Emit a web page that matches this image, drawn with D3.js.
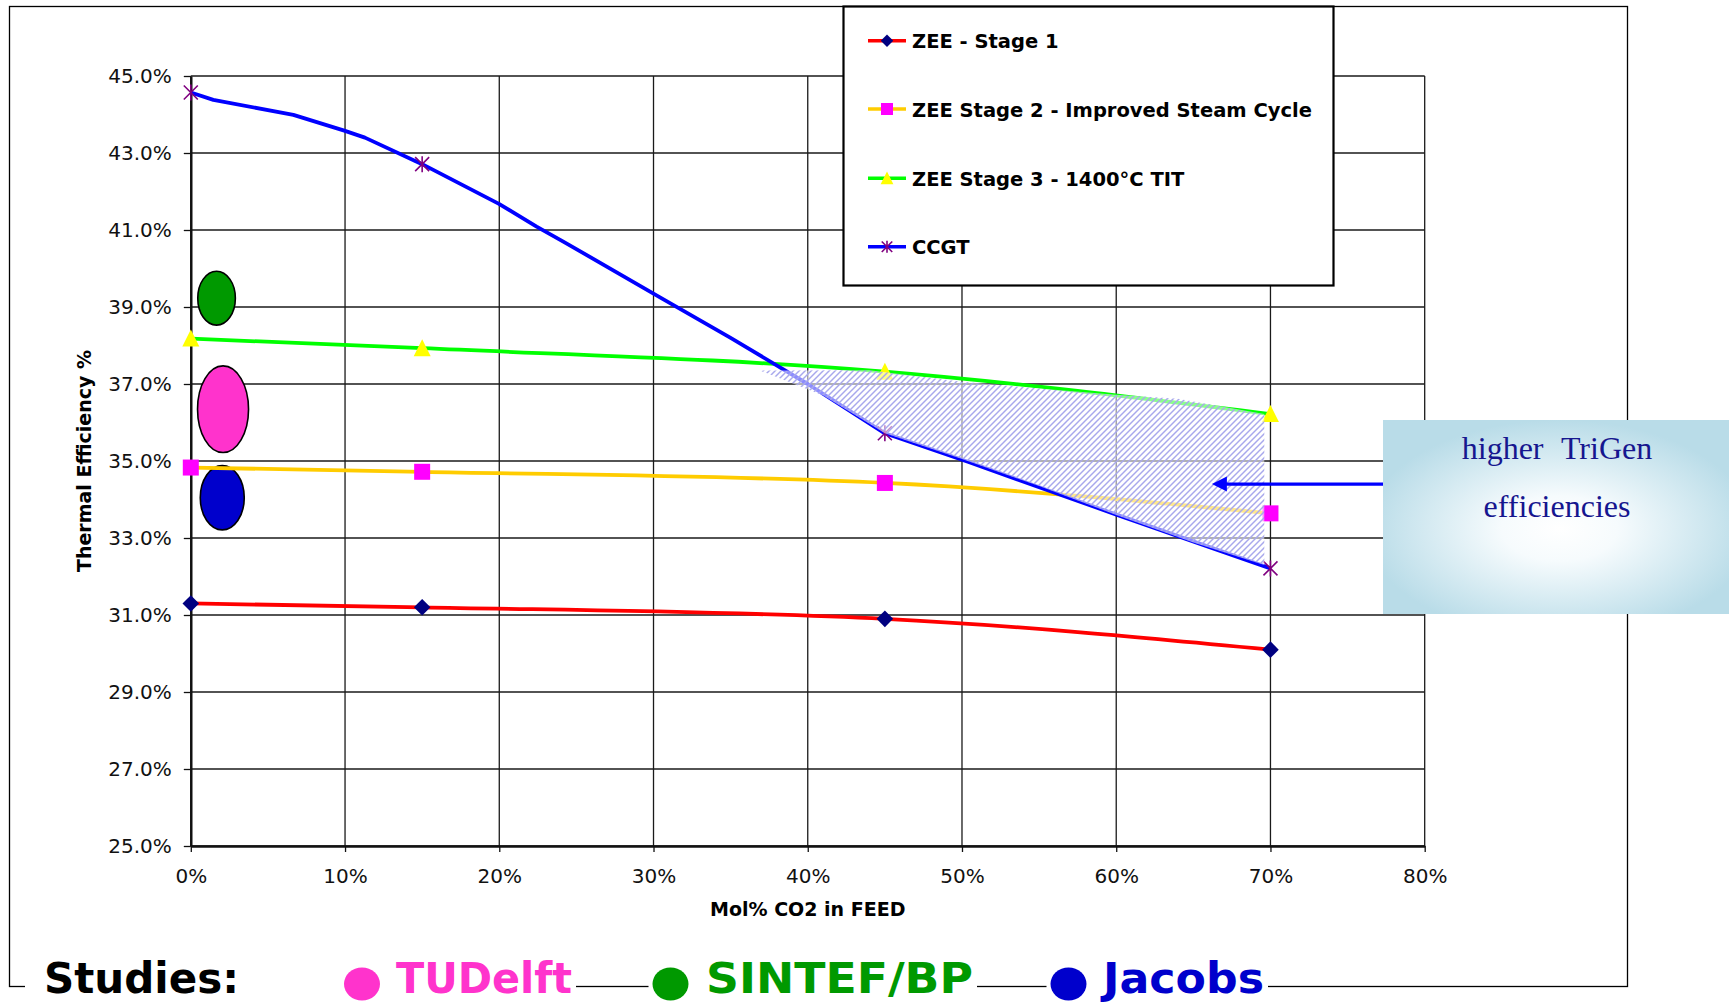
<!DOCTYPE html>
<html>
<head>
<meta charset="utf-8">
<script src="https://cdn.jsdelivr.net/npm/d3@7"></script>
<style>
  html, body { margin: 0; padding: 0; background: #ffffff; }
  svg { display: block; }
</style>
</head>
<body>
<svg id="chart" width="1729" height="1006"></svg>
<script>
// ---- data ---------------------------------------------------------------
const co2Feed = [0, 15, 45, 70];                 // Mol% CO2 in feed
const zeeStage1 = [31.30, 31.20, 30.90, 30.10];  // thermal efficiency %
const zeeStage2 = [34.83, 34.72, 34.43, 33.64];
const zeeStage3 = [38.18, 37.93, 37.32, 36.22];
const ccgt      = [44.57, 42.71, 35.72, 32.21];

// finer CCGT trace between the marked cases
const ccgtTraceX = [0, 1.46, 6.65, 9.95, 11.29, 15, 19.98, 22.42, 24.15, 30.42, 35, 40, 45, 50.38, 60.06, 70];
const ccgtTraceY = [44.57, 44.38, 43.99, 43.58, 43.40, 42.71, 41.68, 41.09, 40.70, 39.25, 38.2, 37.0, 35.72, 34.98, 33.60, 32.21];

const seriesNames = ["ZEE - Stage 1", "ZEE Stage 2 - Improved Steam Cycle",
                     "ZEE Stage 3 - 1400°C TIT", "CCGT"];

const xTicks = [0, 10, 20, 30, 40, 50, 60, 70, 80];
const yTicks = [25, 27, 29, 31, 33, 35, 37, 39, 41, 43, 45];

// published study results, shown as efficiency bands near 2% CO2
const studyNames = ["TUDelft", "SINTEF/BP", "Jacobs"];
const studyCO2   = [2.09, 1.67, 2.04];
const studyLow   = [35.22, 38.53, 33.21];
const studyHigh  = [37.47, 39.93, 34.88];

// region where TriGen beats CCGT (outline in data units)
const gainX = [36.9, 44.0, 50.0, 56.0, 60.0, 64.0, 69.6, 69.6, 65.0, 60.0, 55.0, 50.0, 45.0, 41.0];
const gainY = [37.35, 37.36, 37.06, 36.85, 36.72, 36.62, 36.22, 32.30, 32.88, 33.60, 34.35, 35.05, 35.72, 36.70];
const arrowTip = [66.2, 34.4];

// ---- layout -------------------------------------------------------------
const svg = d3.select("#chart");
const x = d3.scaleLinear().domain([0, 80]).range([190.8, 1424.7]);
const y = d3.scaleLinear().domain([25, 45]).range([846, 76]);
const FONT = "'DejaVu Sans', Verdana, sans-serif";

const styles = [
  { line: "#ff0000", marker: "diamond",  mfill: "#000080" },
  { line: "#ffcc00", marker: "square",   mfill: "#ff00ff" },
  { line: "#00ff00", marker: "triangle", mfill: "#ffff00" },
  { line: "#0000ff", marker: "star",     mfill: "#800080" }
];
const seriesValues = [zeeStage1, zeeStage2, zeeStage3, ccgt];

const defs = svg.append("defs");
const pat = defs.append("pattern").attr("id", "hatch")
  .attr("patternUnits", "userSpaceOnUse").attr("width", 6).attr("height", 6);
pat.append("rect").attr("width", 6).attr("height", 6).attr("fill", "rgba(255,255,255,0.55)");
pat.append("path").attr("d", "M-1.5,1.5 l3,-3 M0,6 l6,-6 M4.5,7.5 l3,-3")
  .attr("stroke", "#a8a8ec").attr("stroke-width", 1.45);

const grad = defs.append("radialGradient").attr("id", "calloutFill")
  .attr("cx", 0.51).attr("cy", 0.56).attr("r", 0.56);
grad.append("stop").attr("offset", "0%").attr("stop-color", "#ffffff");
grad.append("stop").attr("offset", "30%").attr("stop-color", "#f6fbfd");
grad.append("stop").attr("offset", "100%").attr("stop-color", "#b9dce8");

// outer frame
svg.append("rect").attr("x", 9.5).attr("y", 6.5).attr("width", 1618).attr("height", 980)
  .attr("fill", "none").attr("stroke", "#000").attr("stroke-width", 1.3);

// ---- grid ---------------------------------------------------------------
const grid = svg.append("g");
grid.selectAll("line.h").data(yTicks).join("line")
  .attr("x1", x(0)).attr("x2", x(80)).attr("y1", d => y(d)).attr("y2", d => y(d))
  .attr("stroke", "#1a1a1a").attr("stroke-width", 1.3);
grid.selectAll("line.v").data(xTicks).join("line")
  .attr("x1", d => x(d)).attr("x2", d => x(d)).attr("y1", y(25)).attr("y2", y(45))
  .attr("stroke", "#1a1a1a").attr("stroke-width", 1.3);

// ---- axes ---------------------------------------------------------------
const yAxis = svg.append("g").attr("transform", `translate(${x(0)},0)`)
  .call(d3.axisLeft(y).tickValues(yTicks).tickSize(7).tickSizeOuter(0).tickPadding(12)
    .tickFormat(d => d.toFixed(1) + "%"));
const xAxis = svg.append("g").attr("transform", `translate(0,${y(25)})`)
  .call(d3.axisBottom(x).tickValues(xTicks).tickSize(6).tickSizeOuter(0).tickPadding(17)
    .tickFormat(d => d + "%"));
[yAxis, xAxis].forEach(a => {
  a.select(".domain").attr("stroke", "#111").attr("stroke-width", 2.4);
  a.selectAll(".tick line").attr("stroke", "#111").attr("stroke-width", 1.3);
  a.selectAll(".tick text").attr("font-family", FONT).attr("font-size", 20).attr("fill", "#111");
});

svg.append("text").attr("x", (x(0) + x(80)) / 2).attr("y", 915.5)
  .attr("text-anchor", "middle").attr("font-family", FONT).attr("font-weight", "bold")
  .attr("font-size", 19).text("Mol% CO2 in FEED");
svg.append("text").attr("transform", `translate(91,${(y(25) + y(45)) / 2}) rotate(-90)`)
  .attr("text-anchor", "middle").attr("font-family", FONT).attr("font-weight", "bold")
  .attr("font-size", 19).text("Thermal Efficiency %");

// ---- study bands --------------------------------------------------------
const studyColors = ["#ff33cc", "#009900", "#0000cc"];
const studyRx = [25.5, 18.8, 22];
svg.append("g").selectAll("ellipse").data(studyNames).join("ellipse")
  .attr("cx", (d, i) => x(studyCO2[i]))
  .attr("cy", (d, i) => (y(studyLow[i]) + y(studyHigh[i])) / 2)
  .attr("rx", (d, i) => studyRx[i])
  .attr("ry", (d, i) => (y(studyLow[i]) - y(studyHigh[i])) / 2)
  .attr("fill", (d, i) => studyColors[i]).attr("stroke", "#000").attr("stroke-width", 1.6);

// ---- series -------------------------------------------------------------
const smooth = d3.line().x(d => x(d[0])).y(d => y(d[1])).curve(d3.curveMonotoneX);
const straight = d3.line().x(d => x(d[0])).y(d => y(d[1]));

function marker(g, type, fill, k) {
  if (type === "diamond") {
    g.append("path").attr("d", `M0,${-8.3 * k} L${8.3 * k},0 L0,${8.3 * k} L${-8.3 * k},0 Z`).attr("fill", fill);
  } else if (type === "square") {
    g.append("rect").attr("x", -8 * k).attr("y", -8 * k).attr("width", 16 * k).attr("height", 16 * k).attr("fill", fill);
  } else if (type === "triangle") {
    g.append("path").attr("d", `M0,${-9 * k} L${8.5 * k},${8 * k} L${-8.5 * k},${8 * k} Z`).attr("fill", fill);
  } else {
    const s = 7 * k, t = 8 * k;
    g.append("path").attr("d", `M${-s},${-s} L${s},${s} M${-s},${s} L${s},${-s} M0,${-t} L0,${t}`)
      .attr("stroke", fill).attr("stroke-width", 1.6).attr("fill", "none");
  }
}

seriesValues.forEach((vals, i) => {
  const d = i === 3
    ? straight(ccgtTraceX.map((c, j) => [c, ccgtTraceY[j]]))
    : smooth(co2Feed.map((c, j) => [c, vals[j]]));
  svg.append("path").attr("d", d).attr("fill", "none")
    .attr("stroke", styles[i].line).attr("stroke-width", 3.8).attr("stroke-linejoin", "round");
});
seriesValues.forEach((vals, i) => {
  co2Feed.forEach((c, j) => {
    const g = svg.append("g").attr("transform", `translate(${x(c)},${y(vals[j])})`);
    marker(g, styles[i].marker, styles[i].mfill, 1);
  });
});

// ---- TriGen advantage region ------------------------------------------
const gainPts = gainX.map((v, i) => [v, gainY[i]]);
svg.append("path").attr("d", straight(gainPts) + "Z").attr("fill", "url(#hatch)");

// ---- legend -------------------------------------------------------------
svg.append("rect").attr("x", 843.5).attr("y", 6.5).attr("width", 490).attr("height", 279)
  .attr("fill", "#fff").attr("stroke", "#000").attr("stroke-width", 2.2);
const legendY = [40.7, 109, 178.3, 246.7];
seriesNames.forEach((name, i) => {
  const g = svg.append("g").attr("transform", `translate(0,${legendY[i]})`);
  g.append("line").attr("x1", 868).attr("x2", 906).attr("stroke", styles[i].line).attr("stroke-width", 3.5);
  const m = g.append("g").attr("transform", "translate(887,0)");
  marker(m, styles[i].marker, styles[i].mfill, 0.75);
  g.append("text").attr("x", 912).attr("y", 7.5).attr("font-family", FONT)
    .attr("font-weight", "bold").attr("font-size", 19.5).attr("fill", "#000").text(name);
});

// ---- callout ------------------------------------------------------------
svg.append("line").attr("x1", 1384).attr("x2", x(arrowTip[0]) + 13)
  .attr("y1", y(arrowTip[1])).attr("y2", y(arrowTip[1]))
  .attr("stroke", "#0000ff").attr("stroke-width", 3.2);
svg.append("path")
  .attr("d", `M${x(arrowTip[0])},${y(arrowTip[1])} l15,-7.5 l0,15 Z`)
  .attr("fill", "#0000ff");
svg.append("rect").attr("x", 1383).attr("y", 420).attr("width", 346).attr("height", 194)
  .attr("fill", "url(#calloutFill)");
const callout = svg.append("text").attr("text-anchor", "middle")
  .attr("font-family", "'Liberation Serif', 'Times New Roman', serif")
  .attr("font-size", 32).attr("fill", "#16168f");
callout.append("tspan").attr("x", 1557).attr("y", 459).attr("word-spacing", 10).text("higher TriGen");
callout.append("tspan").attr("x", 1557).attr("y", 517).text("efficiencies");

// ---- studies key along the bottom edge --------------------------------
const key = svg.append("g");
const keyBg = key.append("g");
key.append("text").attr("x", 44).attr("y", 993)
  .attr("font-family", FONT).attr("font-weight", "bold").attr("font-size", 42)
  .attr("fill", "#000").text("Studies:");
const keyDotX  = [362, 670.5, 1068.5];
const keyTextX = [396, 706, 1103];
const keyTextW = [176, 267, 161];
const keyBoxes = [];
studyNames.forEach((name, i) => {
  key.append("ellipse").attr("cx", keyDotX[i]).attr("cy", 984).attr("rx", 18).attr("ry", 16.5)
    .attr("fill", studyColors[i]);
  key.append("text").attr("x", keyTextX[i]).attr("y", 993)
    .attr("font-family", FONT).attr("font-weight", "bold").attr("font-size", 42)
    .attr("textLength", keyTextW[i]).attr("lengthAdjust", "spacingAndGlyphs")
    .attr("fill", studyColors[i]).text(name);
  keyBoxes.push([keyDotX[i] - 22, keyTextX[i] + keyTextW[i] + 4]);
});
keyBoxes[0][0] = 25;  // "Studies:" shares the first white box
keyBg.selectAll("rect").data(keyBoxes).join("rect")
  .attr("x", d => d[0]).attr("y", 960).attr("width", d => d[1] - d[0]).attr("height", 46)
  .attr("fill", "#fff");
</script>
</body>
</html>
